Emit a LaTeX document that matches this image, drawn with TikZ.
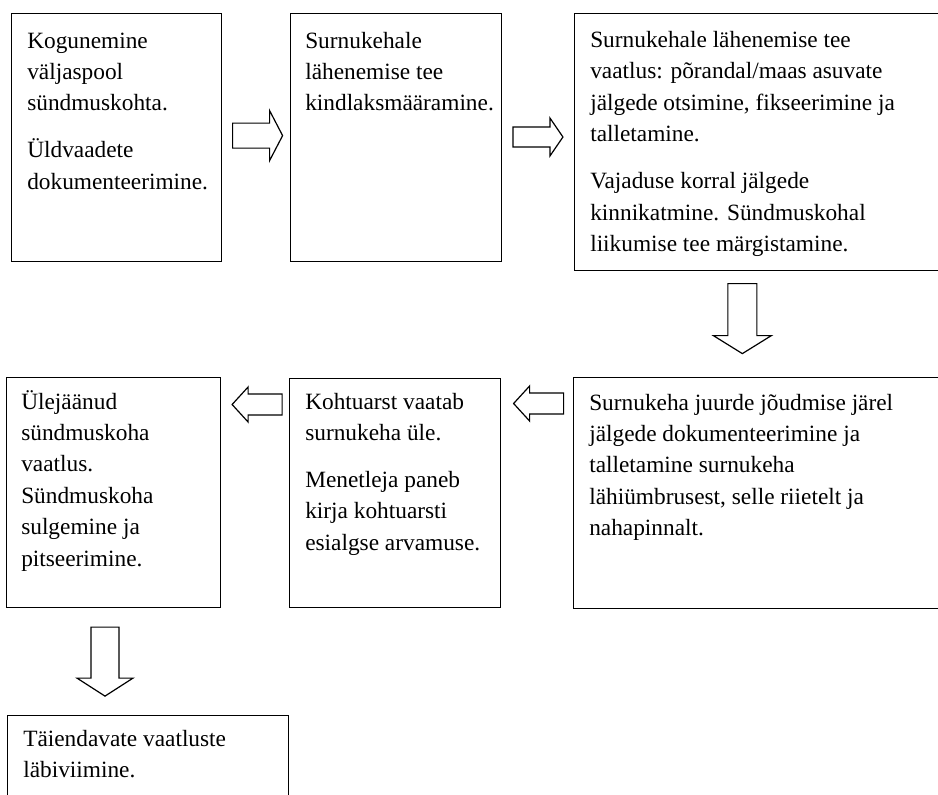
\documentclass[tikz,border=0pt]{standalone}
\usepackage{fontspec}
\setmainfont{Liberation Serif}
\usetikzlibrary{calc}

\begin{document}
\begin{tikzpicture}[x=0.75pt, y=-0.75pt,
  stepbox/.style={draw, line width=0.9pt, anchor=north west, inner sep=0pt},
  txt/.style={anchor=base west, inner sep=0pt, font=\fontsize{17.5}{23.6}\selectfont},
  blockarr/.style={draw, line width=0.9pt, line join=miter, fill=white}]
  \useasboundingbox (0,0) rectangle (938,794);

  % top row
  \node[stepbox, minimum width=157.5pt, minimum height=186pt] (b1) at (11,13) {};
  \node[stepbox, minimum width=158pt, minimum height=186pt] (b2) at (290,13) {};
  \node[stepbox, minimum width=273pt, minimum height=192.75pt] (b3) at (574,13) {};
  % middle row
  \node[stepbox, minimum width=160.5pt, minimum height=172.5pt] (b4) at (6,377) {};
  \node[stepbox, minimum width=158.25pt, minimum height=171.75pt] (b5) at (289,378) {};
  \node[stepbox, minimum width=273.75pt, minimum height=173.25pt] (b6) at (573,377) {};
  % last box, runs off the page
  \node[stepbox, minimum width=210.75pt, minimum height=75pt] (b7) at (7,715) {};

  \node[txt] (t1) at ($(b1.north west)+(16,35)$) {\parbox[t]{200pt}{Kogunemine\\väljaspool\\sündmuskohta.\\[11.6pt]Üldvaadete\\dokumenteerimine.}};
  \node[txt] (t2) at ($(b2.north west)+(15,35)$) {\parbox[t]{200pt}{Surnukehale\\lähenemise tee\\kindlaksmääramine.}};
  \node[txt] (t3) at ($(b3.north west)+(16,34.5)$) {\parbox[t]{260pt}{Surnukehale lähenemise tee\\vaatlus: põrandal/maas asuvate\\jälgede otsimine, fikseerimine ja\\talletamine.\\[11.6pt]Vajaduse korral jälgede\\kinnikatmine. Sündmuskohal\\liikumise tee märgistamine.}};
  \node[txt] (t4) at ($(b4.north west)+(15,32)$) {\parbox[t]{200pt}{Ülejäänud\\sündmuskoha\\vaatlus.\\Sündmuskoha\\sulgemine ja\\pitseerimine.}};
  \node[txt] (t5) at ($(b5.north west)+(16,31)$) {\parbox[t]{200pt}{Kohtuarst vaatab\\surnukeha üle.\\[11.6pt]Menetleja paneb\\kirja kohtuarsti\\esialgse arvamuse.}};
  \node[txt] (t6) at ($(b6.north west)+(16,33)$) {\parbox[t]{260pt}{Surnukeha juurde jõudmise järel\\jälgede dokumenteerimine ja\\talletamine surnukeha\\lähiümbrusest, selle riietelt ja\\nahapinnalt.}};
  \node[txt] (t7) at ($(b7.north west)+(16,31)$) {\parbox[t]{200pt}{Täiendavate vaatluste\\läbiviimine.}};

  % block arrows between the boxes
  \coordinate (a1) at ($(b1.east)!0.5!(b2.west)+(1.5,-2)$);
  \coordinate (a2) at ($(b2.north east)!0.5!(b3.north west)+(0,124)$);
  \coordinate (a3) at ($(b3.south)!0.5!(b6.north)+(-14,-5.5)$);
  \coordinate (a4) at ($(b4.north east)!0.5!(b5.north west)+(2,27)$);
  \coordinate (a5) at ($(b5.north east)!0.5!(b6.north west)+(1.5,26)$);
  \coordinate (a6) at ($(b4.south west)!0.5!(b7.north west)+(98.5,0)$);
  \foreach \a/\r/\len/\sw/\hw/\hd in {a1/0/25/12.5/25/13, a2/0/25/10/19/13,
      a3/-90/35/14.5/29/18, a4/180/25/10.5/17.5/16, a5/180/25/10.5/17.5/16,
      a6/-90/34.5/14/28/18}
    \draw[blockarr, shift={(\a)}, rotate=\r] (-\len,-\sw) -- ({\len-\hd},-\sw) -- ({\len-\hd},-\hw)
      -- (\len,0) -- ({\len-\hd},\hw) -- ({\len-\hd},\sw) -- (-\len,\sw) -- cycle;
\end{tikzpicture}
\end{document}
